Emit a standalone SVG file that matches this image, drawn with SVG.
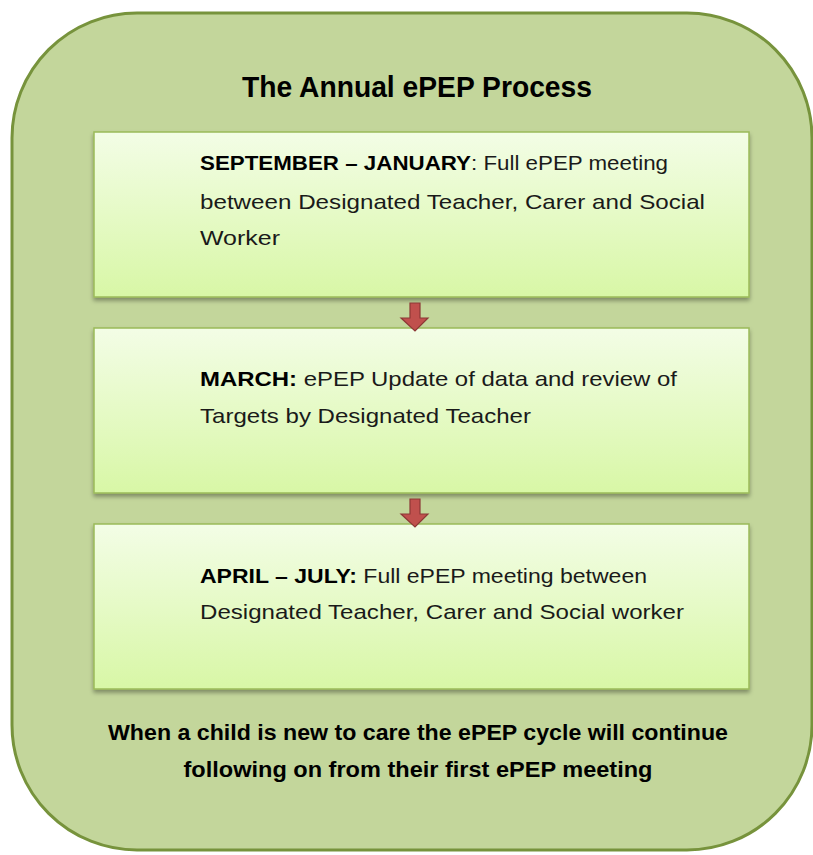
<svg xmlns="http://www.w3.org/2000/svg" width="813" height="855" viewBox="0 0 813 855">
  <defs>
    <linearGradient id="boxGrad" x1="0" y1="0" x2="0" y2="1">
      <stop offset="0" stop-color="#F3FDE6"/>
      <stop offset="1" stop-color="#D8F7A6"/>
    </linearGradient>
    <filter id="shadow" x="-5%" y="-10%" width="110%" height="125%">
      <feDropShadow dx="0" dy="3" stdDeviation="2" flood-color="#000" flood-opacity="0.35"/>
    </filter>
    <style>
      .box { fill: url(#boxGrad); stroke: #9BBB59; stroke-width: 1.5; filter: url(#shadow); }
      .txt { font-family: "Liberation Sans", Arial, sans-serif; font-size: 21px; fill: #1a1a1a; }
      .b { font-weight: bold; fill: #000; }
      .title { font-size: 29px; }
      .note { font-size: 22px; }
      .arrow { fill: #C0504D; stroke: #8C3836; stroke-width: 1.2; }
    </style>
  </defs>

  <g id="outer">
    <rect x="12" y="13" width="800" height="837" rx="125" ry="125" fill="#C3D69B" stroke="#77933C" stroke-width="3"/>
    <text x="417" y="97" text-anchor="middle" class="txt b title" textLength="350" lengthAdjust="spacingAndGlyphs">The Annual ePEP Process</text>
  </g>

  <g id="box1">
    <rect class="box" x="94" y="132" width="655" height="165"/>
    <text class="txt" x="200" y="170" textLength="468" lengthAdjust="spacingAndGlyphs"><tspan class="b">SEPTEMBER – JANUARY</tspan>:  Full ePEP meeting</text>
    <text class="txt" x="200" y="209" textLength="505" lengthAdjust="spacingAndGlyphs">between Designated Teacher, Carer and Social</text>
    <text class="txt" x="200" y="245" textLength="80" lengthAdjust="spacingAndGlyphs">Worker</text>
  </g>

  <g id="box2">
    <rect class="box" x="94" y="328" width="655" height="165"/>
    <text class="txt" x="200" y="386" textLength="477" lengthAdjust="spacingAndGlyphs"><tspan class="b">MARCH:</tspan> ePEP Update of data and review of</text>
    <text class="txt" x="200" y="423" textLength="331" lengthAdjust="spacingAndGlyphs">Targets by Designated Teacher</text>
  </g>

  <g id="box3">
    <rect class="box" x="94" y="524" width="655" height="165"/>
    <text class="txt" x="200" y="583" textLength="447" lengthAdjust="spacingAndGlyphs"><tspan class="b">APRIL – JULY:</tspan> Full ePEP meeting between</text>
    <text class="txt" x="200" y="619" textLength="484" lengthAdjust="spacingAndGlyphs">Designated Teacher, Carer and Social worker</text>
  </g>

  <g id="connectors">
    <path class="arrow" d="M410,303 H420 V318 H428 L415,331 L401,318 H410 Z"/>
    <path class="arrow" d="M410,499 H420 V514 H428 L415,527 L401,514 H410 Z"/>
  </g>

  <g id="note">
    <text class="txt b note" x="418" y="740" text-anchor="middle" textLength="620" lengthAdjust="spacingAndGlyphs">When a child is new to care the ePEP cycle will continue</text>
    <text class="txt b note" x="418" y="777" text-anchor="middle" textLength="469" lengthAdjust="spacingAndGlyphs">following on from their first ePEP meeting</text>
  </g>
</svg>
